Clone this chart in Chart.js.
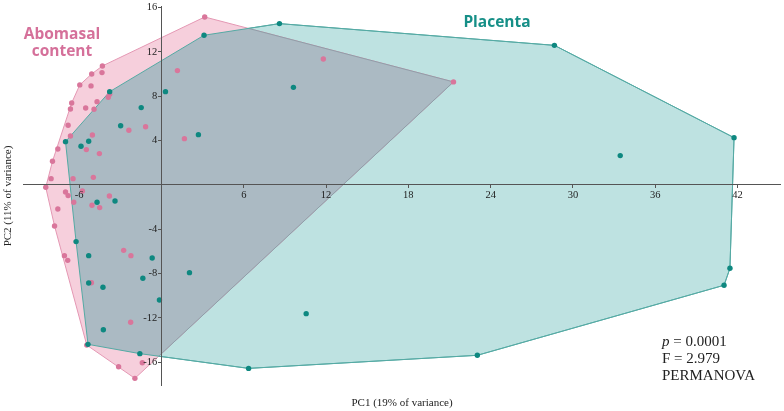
<!DOCTYPE html>
<html>
<head>
<meta charset="utf-8">
<script src="https://cdn.jsdelivr.net/npm/chart.js@4.4.0/dist/chart.umd.min.js"></script>
<style>
  html, body { margin: 0; padding: 0; background: #fff; }
</style>
</head>
<body>
<canvas id="pcoaChart" width="784" height="411"></canvas>
<script>
// tick labels shown on the crossing axes
const xTicks = [-6, 6, 12, 18, 24, 30, 36, 42];
const yTicks = [-16, -12, -8, -4, 4, 8, 12, 16];

// Abomasal content samples (PC1, PC2)
const abomasalX = [3.15, -4.31, -4.34, -5.09, -5.96, -5.14, -3.78, -3.88, -4.7, -6.55,
  -6.64, -5.53, -4.92, -6.81, -6.64, -5.04, -2.38, -1.16, 1.16, 1.67,
  -7.56, -5.48, -4.53, -7.95, -8.05, -6.45, -4.97, -8.44, -7.0, -6.81,
  -5.77, -6.4, -3.8, -5.07, -4.51, -7.56, -7.8, -2.76, -2.23, -7.08,
  -6.84, -5.11, -2.25, -1.4, -3.13, -1.94, 11.8, 21.29, -5.45];
const abomasalY = [15.16, 10.74, 10.14, 10.02, 9.03, 8.94, 8.18, 7.91, 7.52, 7.4,
  6.86, 6.95, 6.83, 5.39, 4.42, 4.51, 4.94, 5.26, 10.32, 4.18,
  3.25, 3.19, 2.83, 2.14, 0.57, 0.57, 0.69, -0.21, -0.63, -0.96,
  -0.54, -1.56, -0.99, -1.83, -2.04, -2.17, -3.7, -5.9, -6.38, -6.38,
  -6.8, -8.82, -12.39, -16.04, -16.4, -17.45, 11.37, 9.3, -14.45];

// Placenta samples (PC1, PC2)
const placentaX = [3.1, -3.78, 0.29, -1.48, -2.98, 2.69, -7.0, -5.87, -5.31, -4.7,
  -3.39, -6.23, -5.31, -0.68, -1.36, 2.04, -5.31, -4.27, -0.15, -4.24,
  -5.36, -1.58, 6.35, 8.6, 9.62, 10.55, 23.03, 28.65, 41.75, 33.45,
  41.45, 41.02];
const placentaY = [13.51, 8.42, 8.42, 6.98, 5.35, 4.54, 3.91, 3.49, 3.94, -1.56,
  -1.44, -5.11, -6.38, -6.59, -8.42, -7.91, -8.84, -9.23, -10.38, -13.06,
  -14.38, -15.22, -16.55, 14.56, 8.81, -11.61, -15.37, 12.6, 4.27, 2.65,
  -7.52, -9.05];

const pinkDot = "#d9769b";
const pinkFill = "#f6cfdc";
const pinkEdge = "#e497b3";
const tealDot = "#0e8880";
const tealFill = "#bee2e1";
const tealEdge = "#55aaa4";
const overlapFill = "#abbac3";
const overlapEdge = "#8e9ea8";

function toPoints(xs, ys) {
  return xs.map((x, i) => ({ x: x, y: ys[i] }));
}

// monotone chain convex hull, closed (first point repeated)
function convexHull(xs, ys) {
  const pts = toPoints(xs, ys).sort((a, b) => a.x - b.x || a.y - b.y);
  const cross = (o, a, b) => (a.x - o.x) * (b.y - o.y) - (a.y - o.y) * (b.x - o.x);
  const lower = [];
  const upper = [];
  for (const p of pts) {
    while (lower.length >= 2 && cross(lower[lower.length - 2], lower[lower.length - 1], p) <= 0) lower.pop();
    lower.push(p);
  }
  for (const p of pts.slice().reverse()) {
    while (upper.length >= 2 && cross(upper[upper.length - 2], upper[upper.length - 1], p) <= 0) upper.pop();
    upper.push(p);
  }
  lower.pop();
  upper.pop();
  const hull = lower.concat(upper);
  hull.push(hull[0]);
  return hull;
}

function tracePath(ctx, els) {
  ctx.beginPath();
  els.forEach((el, i) => (i === 0 ? ctx.moveTo(el.x, el.y) : ctx.lineTo(el.x, el.y)));
  ctx.closePath();
}

// grey where the two hulls overlap, then the outlines again on top
const overlapPlugin = {
  id: "overlap",
  afterDatasetDraw(chart, args) {
    if (args.index !== 1) return;
    const ctx = chart.ctx;
    const teal = chart.getDatasetMeta(0).data;
    const pink = chart.getDatasetMeta(1).data;
    ctx.save();
    tracePath(ctx, teal);
    ctx.clip();
    tracePath(ctx, pink);
    ctx.fillStyle = overlapFill;
    ctx.fill();
    ctx.lineWidth = 1;
    ctx.strokeStyle = overlapEdge;
    ctx.stroke();
    ctx.restore();
    ctx.save();
    tracePath(ctx, teal);
    ctx.lineWidth = 1;
    ctx.strokeStyle = tealEdge;
    ctx.stroke();
    ctx.restore();
  },
};

const labelsPlugin = {
  id: "labels",
  afterDraw(chart) {
    const ctx = chart.ctx;
    ctx.save();
    ctx.textAlign = "center";
    ctx.textBaseline = "middle";
    ctx.font = 'bold 15.5px "Open Sans"';
    ctx.fillStyle = "#d5709a";
    ctx.fillText("Abomasal", 62, 35);
    ctx.fillText("content", 62, 52);
    ctx.fillStyle = "#168f87";
    ctx.fillText("Placenta", 497, 23);

    ctx.fillStyle = "#222";
    ctx.font = '11px "Liberation Serif"';
    ctx.fillText("PC1 (19% of variance)", 402, 403);
    ctx.save();
    ctx.translate(8, 196);
    ctx.rotate(-Math.PI / 2);
    ctx.fillText("PC2 (11% of variance)", 0, 0);
    ctx.restore();

    ctx.textAlign = "left";
    ctx.font = 'italic 15px "Liberation Serif"';
    ctx.fillText("p", 662, 342);
    const pw = ctx.measureText("p").width;
    ctx.font = '15px "Liberation Serif"';
    ctx.fillText(" = 0.0001", 662 + pw, 342);
    ctx.fillText("F = 2.979", 662, 359);
    ctx.fillText("PERMANOVA", 662, 376);
    ctx.restore();
  },
};

const noPad = (scale) => {
  scale.paddingTop = 0;
  scale.paddingBottom = 0;
  scale.paddingLeft = 0;
  scale.paddingRight = 0;
};

const tickFont = { family: "Liberation Serif", size: 10.5 };

new Chart(document.getElementById("pcoaChart"), {
  type: "scatter",
  data: {
    datasets: [
      {
        data: convexHull(placentaX, placentaY),
        showLine: true,
        fill: "shape",
        backgroundColor: tealFill,
        borderColor: tealEdge,
        borderWidth: 1,
        pointRadius: 0,
        tension: 0,
        order: 4,
      },
      {
        data: convexHull(abomasalX, abomasalY),
        showLine: true,
        fill: "shape",
        backgroundColor: pinkFill,
        borderColor: pinkEdge,
        borderWidth: 1,
        pointRadius: 0,
        tension: 0,
        order: 3,
      },
      {
        label: "Abomasal content",
        data: toPoints(abomasalX, abomasalY),
        backgroundColor: pinkDot,
        borderWidth: 0,
        pointRadius: 2.7,
        order: 2,
      },
      {
        label: "Placenta",
        data: toPoints(placentaX, placentaY),
        backgroundColor: tealDot,
        borderWidth: 0,
        pointRadius: 2.7,
        order: 1,
      },
    ],
  },
  options: {
    responsive: false,
    animation: false,
    layout: { padding: { left: 23, right: 2, top: 6, bottom: 26 } },
    plugins: { legend: { display: false }, tooltip: { enabled: false } },
    scales: {
      x: {
        type: "linear",
        min: -10.1,
        max: 45.1,
        position: { y: 0 },
        afterBuildTicks: (s) => { s.ticks = xTicks.map((v) => ({ value: v })); },
        afterFit: noPad,
        grid: { display: true, drawOnChartArea: false, tickLength: 3, tickColor: "#555", z: 1 },
        border: { color: "#555", width: 1, z: 1 },
        ticks: { font: tickFont, color: "#222", padding: 1, maxRotation: 0, autoSkip: false, z: 1 },
      },
      y: {
        type: "linear",
        min: -18.05,
        max: 16.15,
        position: { x: 0 },
        afterBuildTicks: (s) => { s.ticks = yTicks.map((v) => ({ value: v })); },
        afterFit: noPad,
        grid: { display: true, drawOnChartArea: false, tickLength: 3, tickColor: "#555", z: 1 },
        border: { color: "#555", width: 1, z: 1 },
        // labels sit flush on a crossing axis, so nudge them off the tick mark
        ticks: {
          font: tickFont, color: "#222", padding: 1, autoSkip: false, z: 1,
          callback: (v) => v + "\u2009\u2009",
        },
      },
    },
  },
  plugins: [overlapPlugin, labelsPlugin],
});
</script>
</body>
</html>
